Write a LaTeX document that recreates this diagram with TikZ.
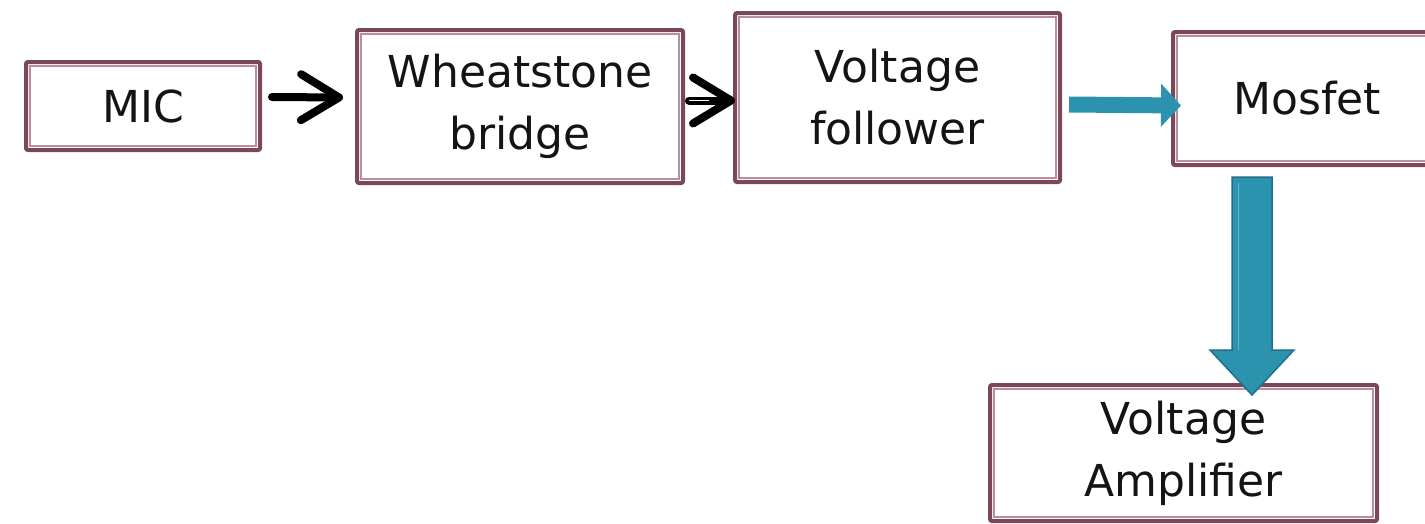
\documentclass[tikz,border=0pt]{standalone}
\usepackage{fontspec}
\setmainfont{DejaVu Sans}
\usetikzlibrary{arrows.meta,calc}
\definecolor{frame}{HTML}{7A4857}
\definecolor{frameinner}{HTML}{B98D9B}
\definecolor{teal}{HTML}{2C93AF}
\definecolor{tealdark}{HTML}{1F6F86}
\tikzset{
  block/.style={draw=frame, line width=4pt, rounded corners=2pt, fill=white,
    align=center, inner sep=0pt, text=black!92,
    font=\fontsize{44}{62}\selectfont},
  innerframe/.style={draw=frameinner, line width=1.4pt},
  barb/.style={line width=8pt, line cap=round, black,
    -{Straight Barb[length=38pt 0 0, width=46pt 0 0, round]}},
  flatarrow/.style={draw=teal, line width=16pt,
    -{Triangle[length=20pt 0 0, width=42pt 0 0]}},
  blockarrow/.style={fill=teal, draw=tealdark, line width=1.5pt, line join=miter}
}
\begin{document}
\begin{tikzpicture}[x=1pt, y=-1pt]
  \useasboundingbox (0,0) rectangle (1425,523);

  % blocks of the chain
  \node[block, minimum width=234pt, minimum height=88pt]  (mic) at (143,106)    {MIC};
  \node[block, minimum width=326pt, minimum height=153pt] (wb)  at (520,106.5)  {Wheatstone\\bridge};
  \node[block, minimum width=325pt, minimum height=169pt] (vf)  at (897.5,97.5) {Voltage\\follower};
  \node[block, minimum width=268pt, minimum height=133pt] (mos) at (1307,98.5)  {Mosfet};
  \node[block, minimum width=387pt, minimum height=136pt] (amp) at (1183.5,453) {Voltage\\Amplifier};

  % thin inner line of each double frame
  \foreach \n in {mic,wb,vf,mos,amp}
    \draw[innerframe] ([shift={(6pt,-6pt)}]\n.north west) rectangle ([shift={(-6pt,6pt)}]\n.south east);

  % black arrows
  \draw[barb] ([shift={(10pt,9pt)}]mic.east) -- ([shift={(-12pt,9pt)}]wb.east -| wb.west);
  \draw[barb] ([xshift=4pt,yshift=-3pt]wb.east |- vf.west) -- ([xshift=2pt,yshift=-3pt]vf.west);
  \draw[white, line width=1.2pt] ([xshift=4pt,yshift=-3pt]wb.east |- vf.west) -- ++(20pt,0);

  % teal arrow into the Mosfet block
  \draw[flatarrow] ([shift={(7pt,-7pt)}]vf.east) -- ([shift={(10pt,-7pt)}]mos.west);

  % wide block arrow from the Mosfet down to the amplifier
  \coordinate (dtop) at ($(mos.south)+(-55,10)$);
  \coordinate (dtip) at ($(amp.north)+(68.5,12)$);
  \draw[blockarrow] ($(dtop)+(-20,0)$) -- ($(dtip)+(-20,-45)$) -- ($(dtip)+(-42,-45)$)
    -- (dtip) -- ($(dtip)+(42,-45)$) -- ($(dtip)+(20,-45)$) -- ($(dtop)+(20,0)$) -- cycle;
  \draw[teal!70!white, line width=1pt] ($(dtop)+(-14,6)$) -- ($(dtip)+(-14,-45)$);
\end{tikzpicture}
\end{document}
